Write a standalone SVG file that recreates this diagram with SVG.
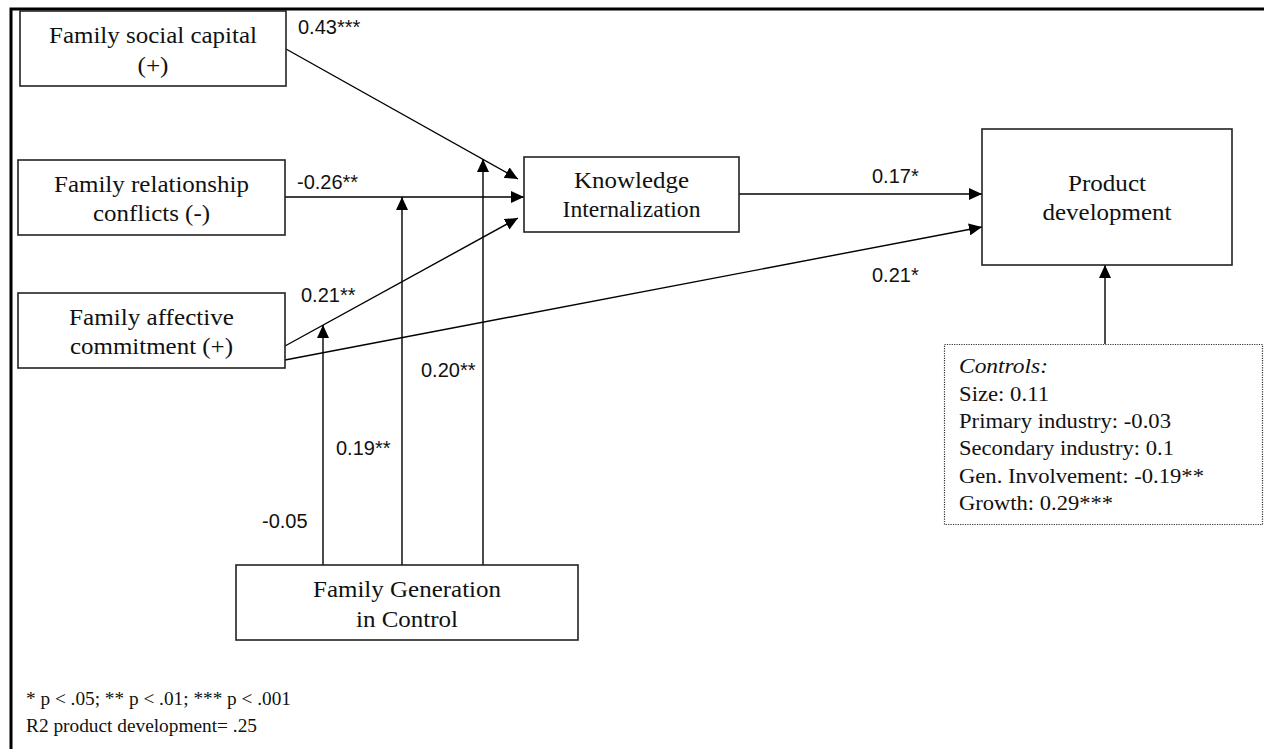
<svg xmlns="http://www.w3.org/2000/svg" width="1264" height="749" viewBox="0 0 1264 749">
<defs>
<marker id="ah" markerUnits="userSpaceOnUse" markerWidth="14" markerHeight="12" refX="13" refY="6" orient="auto">
<path d="M0,0 L13,6 L0,12 Z" fill="#000"/>
</marker>
<style>
.box{fill:#fff;stroke:#222;stroke-width:1.6}
.dot{fill:#fff;stroke:#333;stroke-width:1.2;stroke-dasharray:1.2 1.2}
.t{font-family:"Liberation Serif","Times New Roman",serif;font-size:23.5px;fill:#111;text-anchor:middle}
.c{font-family:"Liberation Serif","Times New Roman",serif;font-size:20.5px;fill:#111}
.lg{font-family:"Liberation Serif","Times New Roman",serif;font-size:18px;fill:#111}
.l{font-family:"Liberation Sans",Arial,sans-serif;font-size:20px;fill:#111}
.ln{fill:none;stroke:#000;stroke-width:1.4}
</style>
</defs>
<rect width="1264" height="749" fill="#fff"/>
<path d="M11,749 V9 H1264" fill="none" stroke="#000" stroke-width="3"/>

<g id="connectors">
<line class="ln" x1="286" y1="49" x2="518" y2="179" marker-end="url(#ah)"/>
<line class="ln" x1="285" y1="197" x2="524" y2="197" marker-end="url(#ah)"/>
<line class="ln" x1="285" y1="346" x2="518" y2="218" marker-end="url(#ah)"/>
<line class="ln" x1="285" y1="360" x2="982" y2="227" marker-end="url(#ah)"/>
<line class="ln" x1="739" y1="194" x2="982" y2="194" marker-end="url(#ah)"/>
<line class="ln" x1="1105" y1="344" x2="1105" y2="265" marker-end="url(#ah)"/>
<line class="ln" x1="323" y1="565" x2="323" y2="325" marker-end="url(#ah)"/>
<line class="ln" x1="402" y1="565" x2="402" y2="197" marker-end="url(#ah)"/>
<line class="ln" x1="483" y1="565" x2="483" y2="159" marker-end="url(#ah)"/>
<text class="l" x="298" y="34">0.43***</text>
<text class="l" x="297" y="189">-0.26**</text>
<text class="l" x="301" y="302">0.21**</text>
<text class="l" x="421" y="377">0.20**</text>
<text class="l" x="336" y="455">0.19**</text>
<text class="l" x="262" y="528">-0.05</text>
<text class="l" x="872" y="183">0.17*</text>
<text class="l" x="872" y="282">0.21*</text>
</g>

<g id="fsc">
<rect class="box" x="20" y="11" width="266" height="75"/>
<text class="t" x="153" y="43" textLength="208" lengthAdjust="spacingAndGlyphs">Family social capital</text>
<text class="t" x="153" y="73" textLength="31" lengthAdjust="spacingAndGlyphs">(+)</text>
</g>
<g id="frc">
<rect class="box" x="18" y="160" width="267" height="75"/>
<text class="t" x="151.5" y="192" textLength="195" lengthAdjust="spacingAndGlyphs">Family relationship</text>
<text class="t" x="151.5" y="221" textLength="117" lengthAdjust="spacingAndGlyphs">conflicts (-)</text>
</g>
<g id="fac">
<rect class="box" x="18" y="293" width="267" height="75"/>
<text class="t" x="151.5" y="325" textLength="165" lengthAdjust="spacingAndGlyphs">Family affective</text>
<text class="t" x="151.5" y="354" textLength="163" lengthAdjust="spacingAndGlyphs">commitment (+)</text>
</g>
<g id="ki">
<rect class="box" x="524" y="157" width="215" height="75"/>
<text class="t" x="631.5" y="188" textLength="115" lengthAdjust="spacingAndGlyphs">Knowledge</text>
<text class="t" x="631.5" y="217" textLength="138" lengthAdjust="spacingAndGlyphs">Internalization</text>
</g>
<g id="pd">
<rect class="box" x="982" y="129" width="250" height="136"/>
<text class="t" x="1107" y="191" textLength="78" lengthAdjust="spacingAndGlyphs">Product</text>
<text class="t" x="1107" y="220" textLength="129" lengthAdjust="spacingAndGlyphs">development</text>
</g>
<g id="fgc">
<rect class="box" x="236" y="565" width="342" height="75"/>
<text class="t" x="407" y="597" textLength="188" lengthAdjust="spacingAndGlyphs">Family Generation</text>
<text class="t" x="407" y="627" textLength="102" lengthAdjust="spacingAndGlyphs">in Control</text>
</g>
<g id="controls">
<rect class="dot" x="944.5" y="344.5" width="318" height="180"/>
<text class="c" x="959" y="373" font-style="italic" textLength="89" lengthAdjust="spacingAndGlyphs">Controls:</text>
<text class="c" x="959" y="401" textLength="90" lengthAdjust="spacingAndGlyphs">Size: 0.11</text>
<text class="c" x="959" y="428" textLength="212" lengthAdjust="spacingAndGlyphs">Primary industry: -0.03</text>
<text class="c" x="959" y="455" textLength="215" lengthAdjust="spacingAndGlyphs">Secondary industry: 0.1</text>
<text class="c" x="959" y="483" textLength="245" lengthAdjust="spacingAndGlyphs">Gen. Involvement: -0.19**</text>
<text class="c" x="959" y="510" textLength="154" lengthAdjust="spacingAndGlyphs">Growth: 0.29***</text>
</g>
<g id="legend">
<text class="lg" x="26" y="705" textLength="265" lengthAdjust="spacingAndGlyphs">* p &lt; .05; ** p &lt; .01; *** p &lt; .001</text>
<text class="lg" x="26" y="732" textLength="231" lengthAdjust="spacingAndGlyphs">R2 product development= .25</text>
</g>
</svg>
